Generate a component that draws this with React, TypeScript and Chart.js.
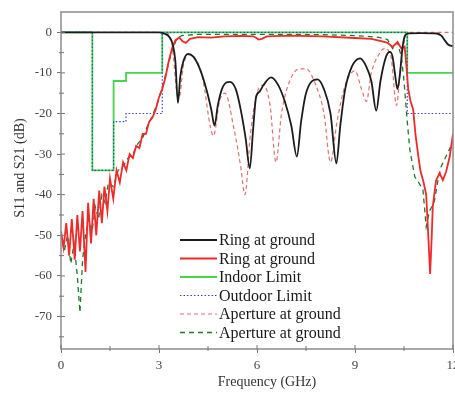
import React, { useEffect, useRef } from 'react';
import { Chart, registerables } from 'chart.js';

Chart.register(...registerables);

const SERIF = '"Liberation Serif", "Times New Roman", serif';

// axis ticks
const xTickValues = [0, 3, 6, 9, 12];
const yTickValues = [-70, -60, -50, -40, -30, -20, -10, 0];
const xMinorTicks = [1.5, 4.5, 7.5, 10.5];
const yMinorTicks = [-75, -65, -55, -45, -35, -25, -15, -5];

// Ring at ground (S11, black)
const ringS11F = [0, 1, 2, 3.0, 3.15, 3.3, 3.42, 3.5, 3.58, 3.65, 3.75, 3.89, 4.05, 4.25, 4.45, 4.6, 4.7, 4.8, 4.95, 5.17, 5.35, 5.5, 5.65, 5.78, 5.88, 5.97, 6.08, 6.2, 6.43, 6.65, 6.85, 7.05, 7.22, 7.35, 7.5, 7.85, 8.05, 8.25, 8.43, 8.55, 8.7, 8.9, 9.16, 9.35, 9.5, 9.65, 9.78, 9.95, 10.07, 10.15, 10.22, 10.3, 10.38, 10.45, 10.52, 10.6, 11.0, 11.5, 11.65, 11.75, 11.85, 12];
const ringS11Db = [0, 0, 0, 0, -0.3, -1, -3, -7, -17.4, -11, -7, -5.3, -6, -9, -14, -19, -23, -18, -13.5, -12.2, -14, -19, -26, -33.5, -24, -16, -14.6, -13, -11.1, -13, -17, -23, -30.6, -22, -15, -11.6, -14, -20, -32.3, -23, -14, -8.5, -6.4, -8.5, -12, -19.3, -12, -6, -4.8, -6, -10, -14, -10, -4, -1, -0.3, -0.2, -0.3, -0.9, -2, -3, -3.5];

// Ring at ground (S21, red)
const ringS21F = [0, 0.08, 0.16, 0.25, 0.33, 0.42, 0.5, 0.58, 0.66, 0.75, 0.83, 0.92, 1.0, 1.08, 1.17, 1.25, 1.33, 1.42, 1.5, 1.6, 1.7, 1.8, 1.9, 2.0, 2.1, 2.2, 2.3, 2.4, 2.5, 2.6, 2.7, 2.8, 2.9, 3.0, 3.1, 3.2, 3.3, 3.4, 3.5, 3.62, 3.72, 3.82, 3.95, 4.2, 4.6, 5.0, 5.5, 5.9, 6.05, 6.15, 6.3, 7, 8, 9, 9.5, 9.8, 10.0, 10.15, 10.3, 10.42, 10.52, 10.57, 10.63, 10.7, 10.78, 10.85, 10.93, 11.0, 11.1, 11.18, 11.23, 11.3, 11.35, 11.38, 11.48, 11.59, 11.69, 11.79, 11.9, 12];
const ringS21Db = [-49, -53, -47, -55, -46, -56, -45, -54, -44, -59, -42, -52, -41, -50, -39, -47, -38, -44, -36, -41, -34, -37, -32, -34, -30, -31, -28, -28.5, -25, -25, -22, -21, -19, -16, -14, -11, -7, -4, -2, -1.3, -2.2, -2.6, -1.6, -1.2, -1.3, -1.0, -0.9, -1.0, -1.8, -1.6, -1.0, -0.8, -1.0, -1.4, -1.6, -2.2, -2.6, -3.6, -2.4, -4, -3.5, -8, -14, -17, -19, -25, -30, -34, -37, -40, -48, -59.5, -50, -43, -36.5, -34.7, -36.4, -34.3, -30.6, -25];

// Indoor limit (green)
const indoorF = [0, 0.96, 0.96, 1.61, 1.61, 1.99, 1.99, 3.1, 3.1, 10.6, 10.6, 12];
const indoorDb = [0, 0, -34, -34, -12, -12, -10, -10, 0, 0, -10, -10];

// Outdoor limit (blue dotted)
const outdoorF = [0, 0.96, 0.96, 1.61, 1.61, 1.99, 1.99, 3.1, 3.1, 10.6, 10.6, 12];
const outdoorDb = [0, 0, -34, -34, -22, -22, -20, -20, 0, 0, -20, -20];

// Aperture at ground (S11, red dashed)
const apS11F = [0, 1, 2, 3.2, 3.4, 3.55, 3.62, 3.75, 3.95, 4.3, 4.67, 4.85, 5.02, 5.3, 5.5, 5.63, 5.8, 6.0, 6.2, 6.4, 6.58, 6.75, 7.0, 7.3, 7.5, 7.8, 8.05, 8.25, 8.45, 8.7, 9.0, 9.2, 9.35, 9.5, 9.72, 9.9, 10.1, 10.27, 10.4, 10.55, 10.7, 12];
const apS11Db = [0, 0, 0, 0, -3, -15, -16, -8, -5.5, -10, -25.5, -17, -15, -24, -33, -40, -25, -15, -13, -18, -32, -20, -12, -9, -9, -13, -20, -32, -22, -13, -9.5, -14, -17, -10, -5.6, -4, -6, -18, -8, -1, 0, 0];

// Aperture at ground (S21, dark green dashed)
const apS21F = [0, 0.1, 0.2, 0.3, 0.4, 0.5, 0.58, 0.66, 0.75, 0.85, 0.95, 1.05, 1.15, 1.25, 1.35, 1.45, 1.6, 1.75, 1.9, 2.05, 2.2, 2.35, 2.5, 2.65, 2.8, 2.95, 3.1, 3.25, 3.4, 3.55, 3.7, 4.2, 5, 6, 7, 8, 9, 9.7, 10.0, 10.15, 10.3, 10.42, 10.5, 10.6, 10.68, 10.83, 10.95, 11.08, 11.18, 11.28, 11.42, 11.55, 11.64, 11.84, 12];
const apS21Db = [-50, -54, -50, -57, -52, -60, -69, -56, -50, -46, -49, -43, -46, -40, -42, -37, -38, -34, -33, -31, -30, -27.5, -26, -23, -20.5, -17.5, -13.5, -9, -4.5, -1.5, -0.8, -0.5, -0.5, -0.5, -0.5, -0.6, -0.8, -1.2, -1.8, -4, -2.5, -6, -12, -22, -29, -35.6, -37, -38.8, -47.9, -44, -42, -36, -33, -29.7, -27];

const seriesLabels = ['Ring at ground', 'Ring at ground', 'Indoor Limit', 'Outdoor Limit', 'Aperture at ground', 'Aperture at ground'];

const toPoints = (f: number[], d: number[]) => f.map((x, i) => ({ x, y: d[i] }));

const overlayPlugin = {
  id: 'overlay',
  afterDatasetsDraw(chart: any) {
    const { ctx, chartArea: a, scales } = chart;
    const xs = scales.x;
    const ys = scales.y;
    ctx.save();
    // frame
    ctx.strokeStyle = '#8c8c8c';
    ctx.lineWidth = 1.5;
    ctx.setLineDash([]);
    ctx.strokeRect(a.left, a.top, a.right - a.left, a.bottom - a.top);
    // inward ticks
    ctx.strokeStyle = '#777';
    ctx.lineWidth = 1;
    ctx.beginPath();
    xTickValues.forEach((v) => {
      const px = xs.getPixelForValue(v);
      ctx.moveTo(px, a.bottom);
      ctx.lineTo(px, a.bottom - 4);
    });
    xMinorTicks.forEach((v) => {
      const px = xs.getPixelForValue(v);
      ctx.moveTo(px, a.bottom + 2);
      ctx.lineTo(px, a.bottom - 3);
    });
    yTickValues.forEach((v) => {
      const py = ys.getPixelForValue(v);
      ctx.moveTo(a.left, py);
      ctx.lineTo(a.left + 4, py);
    });
    yMinorTicks.forEach((v) => {
      const py = ys.getPixelForValue(v);
      ctx.moveTo(a.left - 2, py);
      ctx.lineTo(a.left + 3, py);
    });
    ctx.stroke();

    // legend
    chart.data.datasets.forEach((ds: any, i: number) => {
      const y = 240 + i * 18.5;
      ctx.strokeStyle = ds.borderColor;
      ctx.lineWidth = ds.borderWidth;
      ctx.setLineDash(ds.borderDash || []);
      ctx.beginPath();
      ctx.moveTo(180, y);
      ctx.lineTo(217, y);
      ctx.stroke();
      ctx.setLineDash([]);
      ctx.fillStyle = '#1a1a1a';
      ctx.font = `16px ${SERIF}`;
      ctx.textBaseline = 'middle';
      ctx.textAlign = 'left';
      ctx.fillText(ds.label, 219, y + 1);
    });

    // axis titles
    ctx.fillStyle = '#333';
    ctx.font = `14px ${SERIF}`;
    ctx.textAlign = 'center';
    ctx.textBaseline = 'middle';
    ctx.fillText('Frequency (GHz)', 267, 382);
    ctx.translate(20, 168);
    ctx.rotate(-Math.PI / 2);
    ctx.fillText('S11 and S21 (dB)', 0, 0);
    ctx.restore();
  },
};

export default function App() {
  const canvasRef = useRef<HTMLCanvasElement | null>(null);

  useEffect(() => {
    const canvas = canvasRef.current;
    if (!canvas) return;
    const mk = (label: string, f: number[], d: number[], color: string, width: number, dash: number[], order: number, smooth: boolean) => ({
      label,
      data: toPoints(f, d),
      borderColor: color,
      backgroundColor: color,
      borderWidth: width,
      borderDash: dash,
      showLine: true,
      pointRadius: 0,
      fill: false,
      tension: smooth ? 0.4 : 0,
      cubicInterpolationMode: smooth ? 'monotone' : 'default',
      order,
    });
    const chart = new Chart(canvas, {
      type: 'scatter',
      data: {
        datasets: [
          mk(seriesLabels[0], ringS11F, ringS11Db, '#1c1c1c', 1.8, [], 1, true),
          mk(seriesLabels[1], ringS21F, ringS21Db, '#ee2a2a', 1.8, [], 2, false),
          mk(seriesLabels[2], indoorF, indoorDb, '#44d64a', 1.8, [], 4, false),
          mk(seriesLabels[3], outdoorF, outdoorDb, '#3344cc', 1.2, [1.5, 2], 3, false),
          mk(seriesLabels[4], apS11F, apS11Db, '#e07070', 1.2, [4, 3], 5, true),
          mk(seriesLabels[5], apS21F, apS21Db, '#1f7a2a', 1.3, [5, 4], 6, false),
        ],
      },
      options: {
        responsive: false,
        animation: false,
        devicePixelRatio: 1,
        layout: { padding: { top: 12, right: 2, left: 0, bottom: 0 } },
        plugins: {
          legend: { display: false },
          tooltip: { enabled: false },
        },
        scales: {
          x: {
            type: 'linear',
            min: 0,
            max: 12,
            afterBuildTicks: (s: any) => {
              s.ticks = xTickValues.map((v) => ({ value: v }));
            },
            afterFit: (s: any) => {
              s.height = 47;
              s.paddingLeft = 0;
              s.paddingRight = 0;
            },
            border: { display: false },
            grid: { drawOnChartArea: false, drawTicks: true, tickLength: 4, color: '#777' },
            ticks: {
              autoSkip: false,
              maxRotation: 0,
              padding: 5,
              color: '#444',
              font: { family: SERIF, size: 13 },
            },
          },
          y: {
            type: 'linear',
            min: -78,
            max: 5,
            afterBuildTicks: (s: any) => {
              s.ticks = yTickValues.map((v) => ({ value: v }));
            },
            afterFit: (s: any) => {
              s.width = 61;
              s.paddingTop = 0;
              s.paddingBottom = 0;
            },
            border: { display: false },
            grid: { drawOnChartArea: false, drawTicks: true, tickLength: 4, color: '#777' },
            ticks: {
              autoSkip: false,
              padding: 5,
              color: '#444',
              font: { family: SERIF, size: 13 },
            },
          },
        },
      },
      plugins: [overlayPlugin],
    } as any);
    return () => chart.destroy();
  }, []);

  return (
    <div style={{ position: 'absolute', left: 0, top: 0, width: 455, height: 396, background: '#fff' }}>
      <canvas ref={canvasRef} width={455} height={396} />
    </div>
  );
}
